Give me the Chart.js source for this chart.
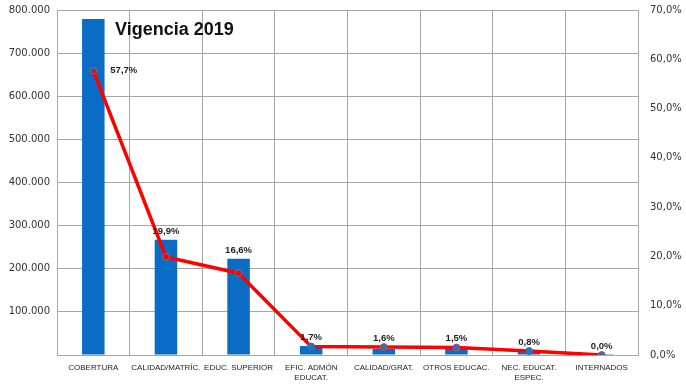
<!DOCTYPE html>
<html>
<head>
<meta charset="utf-8">
<script src="https://cdn.jsdelivr.net/npm/chart.js@4.4.1/dist/chart.umd.min.js"></script>
<style>
  html, body { margin: 0; padding: 0; background: #fff; }
  #wrap { width: 686px; height: 390px; }
</style>
</head>
<body>
<div id="wrap"><canvas id="chart" width="686" height="390"></canvas></div>
<script>
const categories = [
  "COBERTURA", "CALIDAD/MATRÍC.", "EDUC. SUPERIOR", ["EFIC. ADMÓN", "EDUCAT."],
  "CALIDAD/GRAT.", "OTROS EDUCAC.", ["NEC. EDUCAT.", "ESPEC."], "INTERNADOS"
];
const montos = [779000, 267000, 223000, 21000, 14000, 14000, 7000, 300];
const porcentajes = [57.7, 19.9, 16.6, 1.7, 1.6, 1.5, 0.8, 0.0];
const leftTicks = [0, 100000, 200000, 300000, 400000, 500000, 600000, 700000, 800000];
const rightTicks = [0, 10, 20, 30, 40, 50, 60, 70];

const fmtMiles = v => v.toLocaleString("de-DE");
const fmtPct = v => v.toFixed(1).replace(".", ",") + "%";

const labelsPlugin = {
  id: "labelsPlugin",
  afterDatasetsDraw(chart) {
    const ctx = chart.ctx;
    const bars = chart.getDatasetMeta(1).data;
    const pts = chart.getDatasetMeta(0).data;
    ctx.save();
    ctx.fillStyle = "#222";
    ctx.font = "bold 9.5px 'Liberation Sans'";
    porcentajes.forEach((p, i) => {
      if (i === 0) {
        ctx.textAlign = "left";
        ctx.textBaseline = "middle";
        ctx.fillText(fmtPct(p), pts[i].x + 17, pts[i].y);
      } else {
        ctx.textAlign = "center";
        ctx.textBaseline = "bottom";
        const top = Math.min(bars[i].y, pts[i].y);
        ctx.fillText(fmtPct(p), bars[i].x, top - 4);
      }
    });
    ctx.font = "bold 18px 'Liberation Sans'";
    ctx.fillStyle = "#111";
    ctx.textAlign = "left";
    ctx.textBaseline = "alphabetic";
    ctx.fillText("Vigencia 2019", 115, 35);
    ctx.restore();
  }
};

const fitY = width => s => {
  s.width = width;
  s.paddingTop = 0;
  s.paddingBottom = 0;
};

const ctx = document.getElementById("chart").getContext("2d");
new Chart(ctx, {
  data: {
    labels: categories,
    datasets: [
      {
        type: "line",
        data: porcentajes,
        yAxisID: "y1",
        borderColor: "#ff0000",
        borderWidth: 3.5,
        tension: 0,
        pointRadius: 3.5,
        pointBorderWidth: 1,
        pointBorderColor: ["#c0504d", "#c0504d", "#c0504d", "#2f6fb8", "#c0504d", "#c0504d", "#2f6fb8", "#c0504d"],
        pointBackgroundColor: ["rgba(0,0,0,0)", "rgba(0,0,0,0)", "rgba(0,0,0,0)", "#2f6fb8", "#2f6fb8", "#2f6fb8", "#2f6fb8", "#2f6fb8"],
        order: 0
      },
      {
        type: "bar",
        data: montos,
        yAxisID: "y",
        backgroundColor: "#0a6cc4",
        categoryPercentage: 1,
        barPercentage: 0.31,
        order: 1
      }
    ]
  },
  options: {
    responsive: false,
    animation: false,
    layout: { padding: { top: 10, left: 0, right: 0, bottom: 0 } },
    plugins: { legend: { display: false }, tooltip: { enabled: false } },
    scales: {
      x: {
        grid: { color: "#a6a6a6", offset: true, drawTicks: false },
        border: { color: "#a6a6a6" },
        ticks: {
          color: "#222", font: { family: "'Liberation Sans'", size: 8 },
          maxRotation: 0, autoSkip: false, padding: 8
        },
        afterFit(s) { s.height = 35; s.paddingLeft = 0; s.paddingRight = 0; }
      },
      y: {
        position: "left",
        min: 0, max: 800000,
        afterBuildTicks(s) { s.ticks = leftTicks.map(v => ({ value: v })); },
        grid: { color: "#a6a6a6", drawTicks: false },
        border: { color: "#a6a6a6" },
        ticks: {
          color: "#333", font: { family: "'DejaVu Sans'", size: 10 }, padding: 7,
          callback: v => v === 0 ? "" : fmtMiles(v)
        },
        afterFit: fitY(57)
      },
      y1: {
        position: "right",
        min: 0, max: 70,
        afterBuildTicks(s) { s.ticks = rightTicks.map(v => ({ value: v })); },
        grid: { display: false, drawTicks: false },
        border: { color: "#a6a6a6" },
        ticks: {
          color: "#333", font: { family: "'DejaVu Sans'", size: 10 }, padding: 12,
          callback: v => fmtPct(v)
        },
        afterFit: fitY(48)
      }
    }
  },
  plugins: [labelsPlugin]
});
</script>
</body>
</html>
